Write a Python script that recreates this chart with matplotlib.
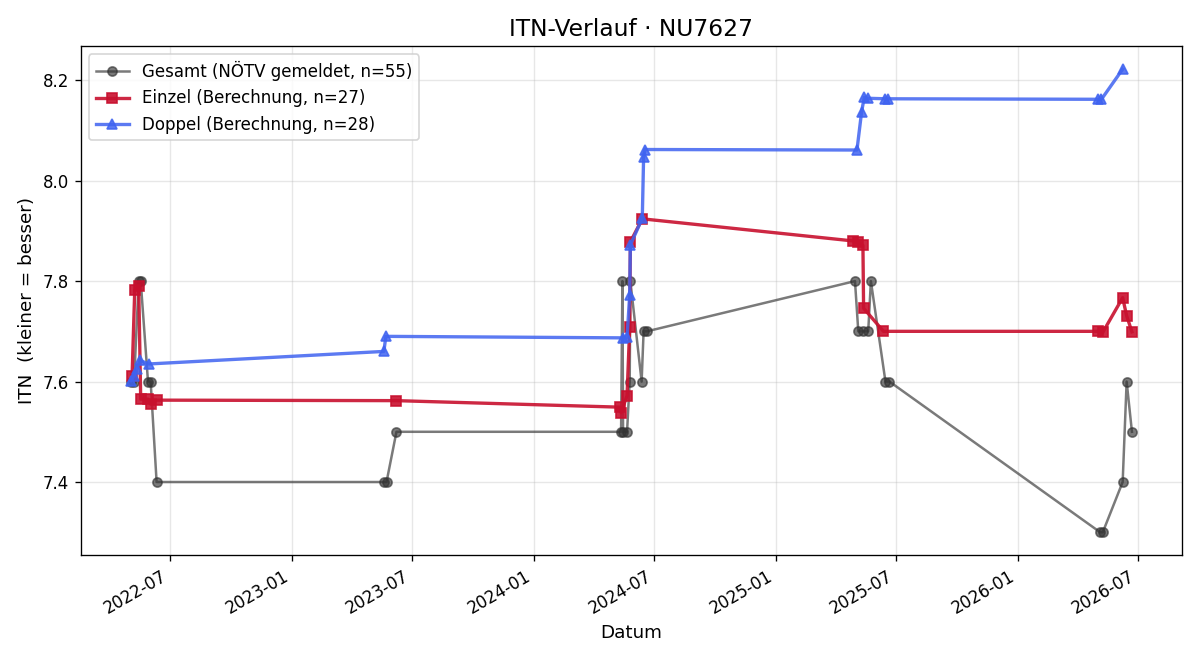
import numpy as np
import pandas as pd
import matplotlib
matplotlib.use("Agg")
import matplotlib.pyplot as plt
import matplotlib.dates as mdates

# ---- data -------------------------------------------------------------
gesamt_dates = [
    "2022-05-03", "2022-05-08", "2022-05-15", "2022-05-18", "2022-05-29", "2022-06-02", "2022-06-11",
    "2023-05-20", "2023-05-24", "2023-06-08",
    "2024-05-12", "2024-05-14", "2024-05-15", "2024-05-21", "2024-05-25", "2024-05-26",
    "2024-06-12", "2024-06-15", "2024-06-20",
    "2025-04-30", "2025-05-05", "2025-05-12", "2025-05-20", "2025-05-24", "2025-06-15", "2025-06-21",
    "2026-05-05", "2026-05-09", "2026-06-08", "2026-06-14", "2026-06-22",
]
gesamt_itn = [
    7.6, 7.6, 7.8, 7.8, 7.6, 7.6, 7.4,
    7.4, 7.4, 7.5,
    7.5, 7.8, 7.5, 7.5, 7.6, 7.8,
    7.6, 7.7, 7.7,
    7.8, 7.7, 7.7, 7.7, 7.8, 7.6, 7.6,
    7.3, 7.3, 7.4, 7.6, 7.5,
]

einzel_dates = [
    "2022-05-05", "2022-05-09", "2022-05-15", "2022-05-18", "2022-05-29", "2022-06-02", "2022-06-11",
    "2023-06-08",
    "2024-05-11", "2024-05-12", "2024-05-21", "2024-05-25", "2024-05-26", "2024-06-13",
    "2025-04-27", "2025-05-05", "2025-05-12", "2025-05-13", "2025-06-12",
    "2026-05-02", "2026-05-09", "2026-06-08", "2026-06-14", "2026-06-22",
]
einzel_itn = [
    7.612, 7.782, 7.790, 7.565, 7.565, 7.555, 7.563,
    7.562,
    7.549, 7.538, 7.572, 7.708, 7.878, 7.924,
    7.880, 7.877, 7.871, 7.746, 7.700,
    7.700, 7.698, 7.767, 7.731, 7.699,
]

doppel_dates = [
    "2022-05-03", "2022-05-08", "2022-05-12", "2022-05-17", "2022-05-30",
    "2023-05-20", "2023-05-23",
    "2024-05-15", "2024-05-21", "2024-05-25", "2024-05-26", "2024-06-13", "2024-06-15", "2024-06-17",
    "2025-05-03", "2025-05-10", "2025-05-14", "2025-05-20", "2025-06-15", "2025-06-19",
    "2026-05-02", "2026-05-07", "2026-06-08",
]
doppel_itn = [
    7.602, 7.612, 7.625, 7.642, 7.635,
    7.660, 7.690,
    7.687, 7.688, 7.772, 7.872, 7.925, 8.047, 8.062,
    8.061, 8.137, 8.166, 8.164, 8.163, 8.163,
    8.162, 8.162, 8.222,
]


def main():
    fig, ax = plt.subplots(figsize=(10, 5.5), dpi=120)

    ax.plot(pd.to_datetime(gesamt_dates), gesamt_itn,
            "o-", color="#333333", alpha=0.65, linewidth=1.5, markersize=5.5,
            label="Gesamt (NÖTV gemeldet, n=55)")
    ax.plot(pd.to_datetime(einzel_dates), einzel_itn,
            "s-", color="#c8102e", alpha=0.9, linewidth=2, markersize=6,
            label="Einzel (Berechnung, n=27)")
    ax.plot(pd.to_datetime(doppel_dates), doppel_itn,
            "^-", color="#3f63f0", alpha=0.85, linewidth=2, markersize=6,
            label="Doppel (Berechnung, n=28)")

    ax.set_title("ITN-Verlauf · NU7627", fontsize=14)
    ax.set_xlabel("Datum", fontsize=11)
    ax.set_ylabel("ITN  (kleiner = besser)", fontsize=11)
    ax.grid(True, alpha=0.3)
    ax.legend(loc="upper left", fontsize=10)

    ax.xaxis.set_major_locator(mdates.MonthLocator(bymonth=[1, 7]))
    ax.xaxis.set_major_formatter(mdates.DateFormatter("%Y-%m"))
    fig.autofmt_xdate()

    plt.tight_layout()
    plt.savefig("out.png", dpi=120)


if __name__ == "__main__":
    main()
